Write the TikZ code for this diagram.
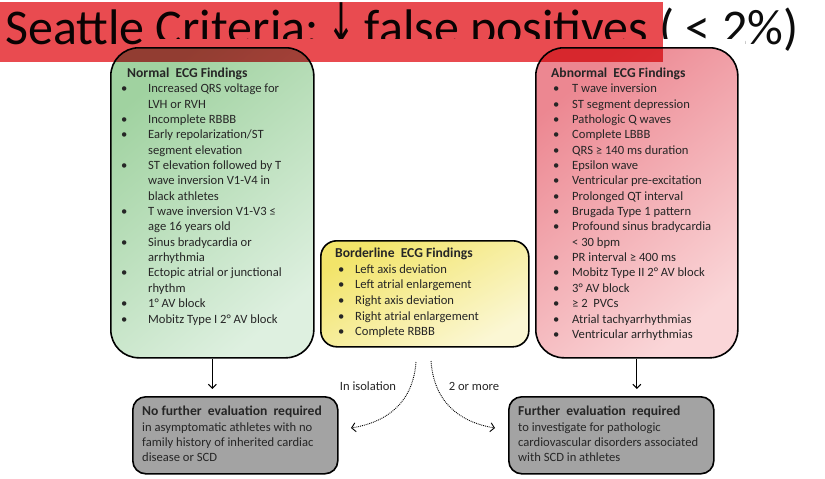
\documentclass[tikz,border=0pt]{standalone}
\usepackage{fontspec}
\usepackage{graphicx}
\setmainfont{Carlito}
\newfontfamily\arrowfont{DejaVu Sans}
\usetikzlibrary{arrows.meta}
\definecolor{txt}{RGB}{38,38,38}
\definecolor{titletxt}{RGB}{12,12,12}
\definecolor{titlered}{RGB}{233,75,80}
\definecolor{gA}{RGB}{160,210,160}
\definecolor{gB}{RGB}{222,240,224}
\definecolor{pA}{RGB}{236,135,145}
\definecolor{pB}{RGB}{250,214,216}
\definecolor{yA}{RGB}{242,228,105}
\definecolor{yB}{RGB}{251,247,212}
\definecolor{greyfill}{RGB}{163,163,163}
\newlength\bulx
\newlength\txtx
\newlength\bskip
\setlength\bskip{15.36pt}
\newcommand\itm{\par\noindent\hangindent=\txtx\hangafter=1\relax\hspace*{\bulx}\makebox[\dimexpr\txtx-\bulx\relax][l]{•}}
\newcommand\bodyfont{\fontsize{12.6}{15.36}\selectfont\setlength\baselineskip{\bskip}}
\newcommand\headfont{\fontsize{13.6}{15.36}\selectfont\bfseries}
\tikzset{
  box/.style={draw=black, line width=1.6pt, inner sep=0pt, anchor=north west},
  content/.style={anchor=base west, inner sep=0pt, text=txt},
  arr/.style={line width=1.1pt, -{Straight Barb[length=4pt,width=8pt]}},
  dotarr/.style={line width=0.9pt, densely dotted, -{Straight Barb[length=4pt,width=9pt]}},
  lbl/.style={inner sep=0pt, text=txt, font=\bodyfont},
}
\begin{document}
\begin{tikzpicture}[x=1pt,y=-1pt]
\useasboundingbox (0,0) rectangle (825,479);
% title text (its lower part is hidden from "Criteria" on, as in the reference)
\node[anchor=base west, inner sep=0pt, text=titletxt, font=\fontsize{50}{60}\selectfont] (title) at (5,45) {Seattle Criteria:\hspace{0.18em}\raisebox{3pt}{\resizebox*{28pt}{39pt}{\raisebox{\depth}{\arrowfont\fontsize{40}{40}\selectfont ↓}}}\hspace{0.18em}false positives ( < 2\%)};
\fill[white] (152,39) rectangle (745,62);
% boxes
\node[box, rounded corners=28pt, minimum width=203pt, minimum height=310pt,
      top color=gA, bottom color=gB, shading angle=40] (g) at (110,47) {};
\node[box, rounded corners=28pt, minimum width=202pt, minimum height=310pt,
      top color=pA, bottom color=pB, shading angle=40] (p) at (535,47) {};
\node[box, rounded corners=16pt, minimum width=208pt, minimum height=106pt,
      top color=yA, bottom color=yB, shading angle=30] (y) at (320,240) {};
\node[box, rounded corners=13pt, minimum width=205pt, minimum height=77pt,
      fill=greyfill] (lg) at (132,396) {};
\node[box, rounded corners=13pt, minimum width=205pt, minimum height=77pt,
      fill=greyfill] (rg) at (508,396) {};
% contents
\node[content] (gt) at (127,77.3) {\parbox[t]{200pt}{\bodyfont\setlength\bulx{-6pt}\setlength\txtx{21pt}%
{\headfont Normal\ \ ECG Findings}
\itm Increased QRS voltage for\newline LVH or RVH
\itm Incomplete RBBB
\itm Early repolarization/ST\newline segment elevation
\itm ST elevation followed by T\newline wave inversion V1-V4 in\newline black athletes
\itm T wave inversion V1-V3 ≤\newline age 16 years old
\itm Sinus bradycardia or\newline arrhythmia
\itm Ectopic atrial or junctional\newline rhythm
\itm 1° AV block
\itm Mobitz Type I 2° AV block}};
\node[content] (pt) at (551,77.3) {\parbox[t]{200pt}{\bodyfont\setlength\bulx{2pt}\setlength\txtx{21pt}%
{\headfont Abnormal\ \ ECG Findings}
\itm T wave inversion
\itm ST segment depression
\itm Pathologic Q waves
\itm Complete LBBB
\itm QRS ≥ 140 ms duration
\itm Epsilon wave
\itm Ventricular pre-excitation
\itm Prolonged QT interval
\itm Brugada Type 1 pattern
\itm Profound sinus bradycardia\newline < 30 bpm
\itm PR interval ≥ 400 ms
\itm Mobitz Type II 2° AV block
\itm 3° AV block
\itm ≥ 2\ \ PVCs
\itm Atrial tachyarrhythmias
\itm Ventricular arrhythmias}};
\node[content] (yt) at (335,257.3) {\parbox[t]{200pt}{\setlength\bskip{15.7pt}\bodyfont\setlength\bulx{3pt}\setlength\txtx{20pt}%
{\headfont Borderline\ \ ECG Findings}
\itm Left axis deviation
\itm Left atrial enlargement
\itm Right axis deviation
\itm Right atrial enlargement
\itm Complete RBBB}};
\node[content] (lgt) at (142,415.7) {\parbox[t]{200pt}{\bodyfont
{\headfont No further\ \ evaluation\ \ required}\\
in asymptomatic athletes with no\\
family history of inherited cardiac\\
disease or SCD}};
\node[content] (rgt) at (518,415.7) {\parbox[t]{200pt}{\bodyfont
{\headfont Further\ \ evaluation\ \ required}\\
to investigate for pathologic\\
cardiovascular disorders associated\\
with SCD in athletes}};
% solid arrows
\draw[arr, shorten >=7pt] (g.south) -- (g.south |- lg.north);
\draw[arr, shorten >=7pt] (p.south) -- (p.south |- rg.north);
% dotted arrows
\coordinate (ls) at (416,362);
\coordinate (rs) at (431,361);
\coordinate (le) at (351,428);
\coordinate (re) at (495,428);
\draw[dotarr] (ls) .. controls (413,402) and (388,422) .. (le);
\draw[dotarr] (rs) .. controls (434,402) and (459,422) .. (re);
\node[lbl] (iso) at (368,386) {In isolation};
\node[lbl] (more) at (474,386) {2 or more};
% title band
\begin{scope}[blend mode=multiply]
\fill[titlered] (0,2) rectangle (663,62);
\end{scope}
\end{tikzpicture}
\end{document}
